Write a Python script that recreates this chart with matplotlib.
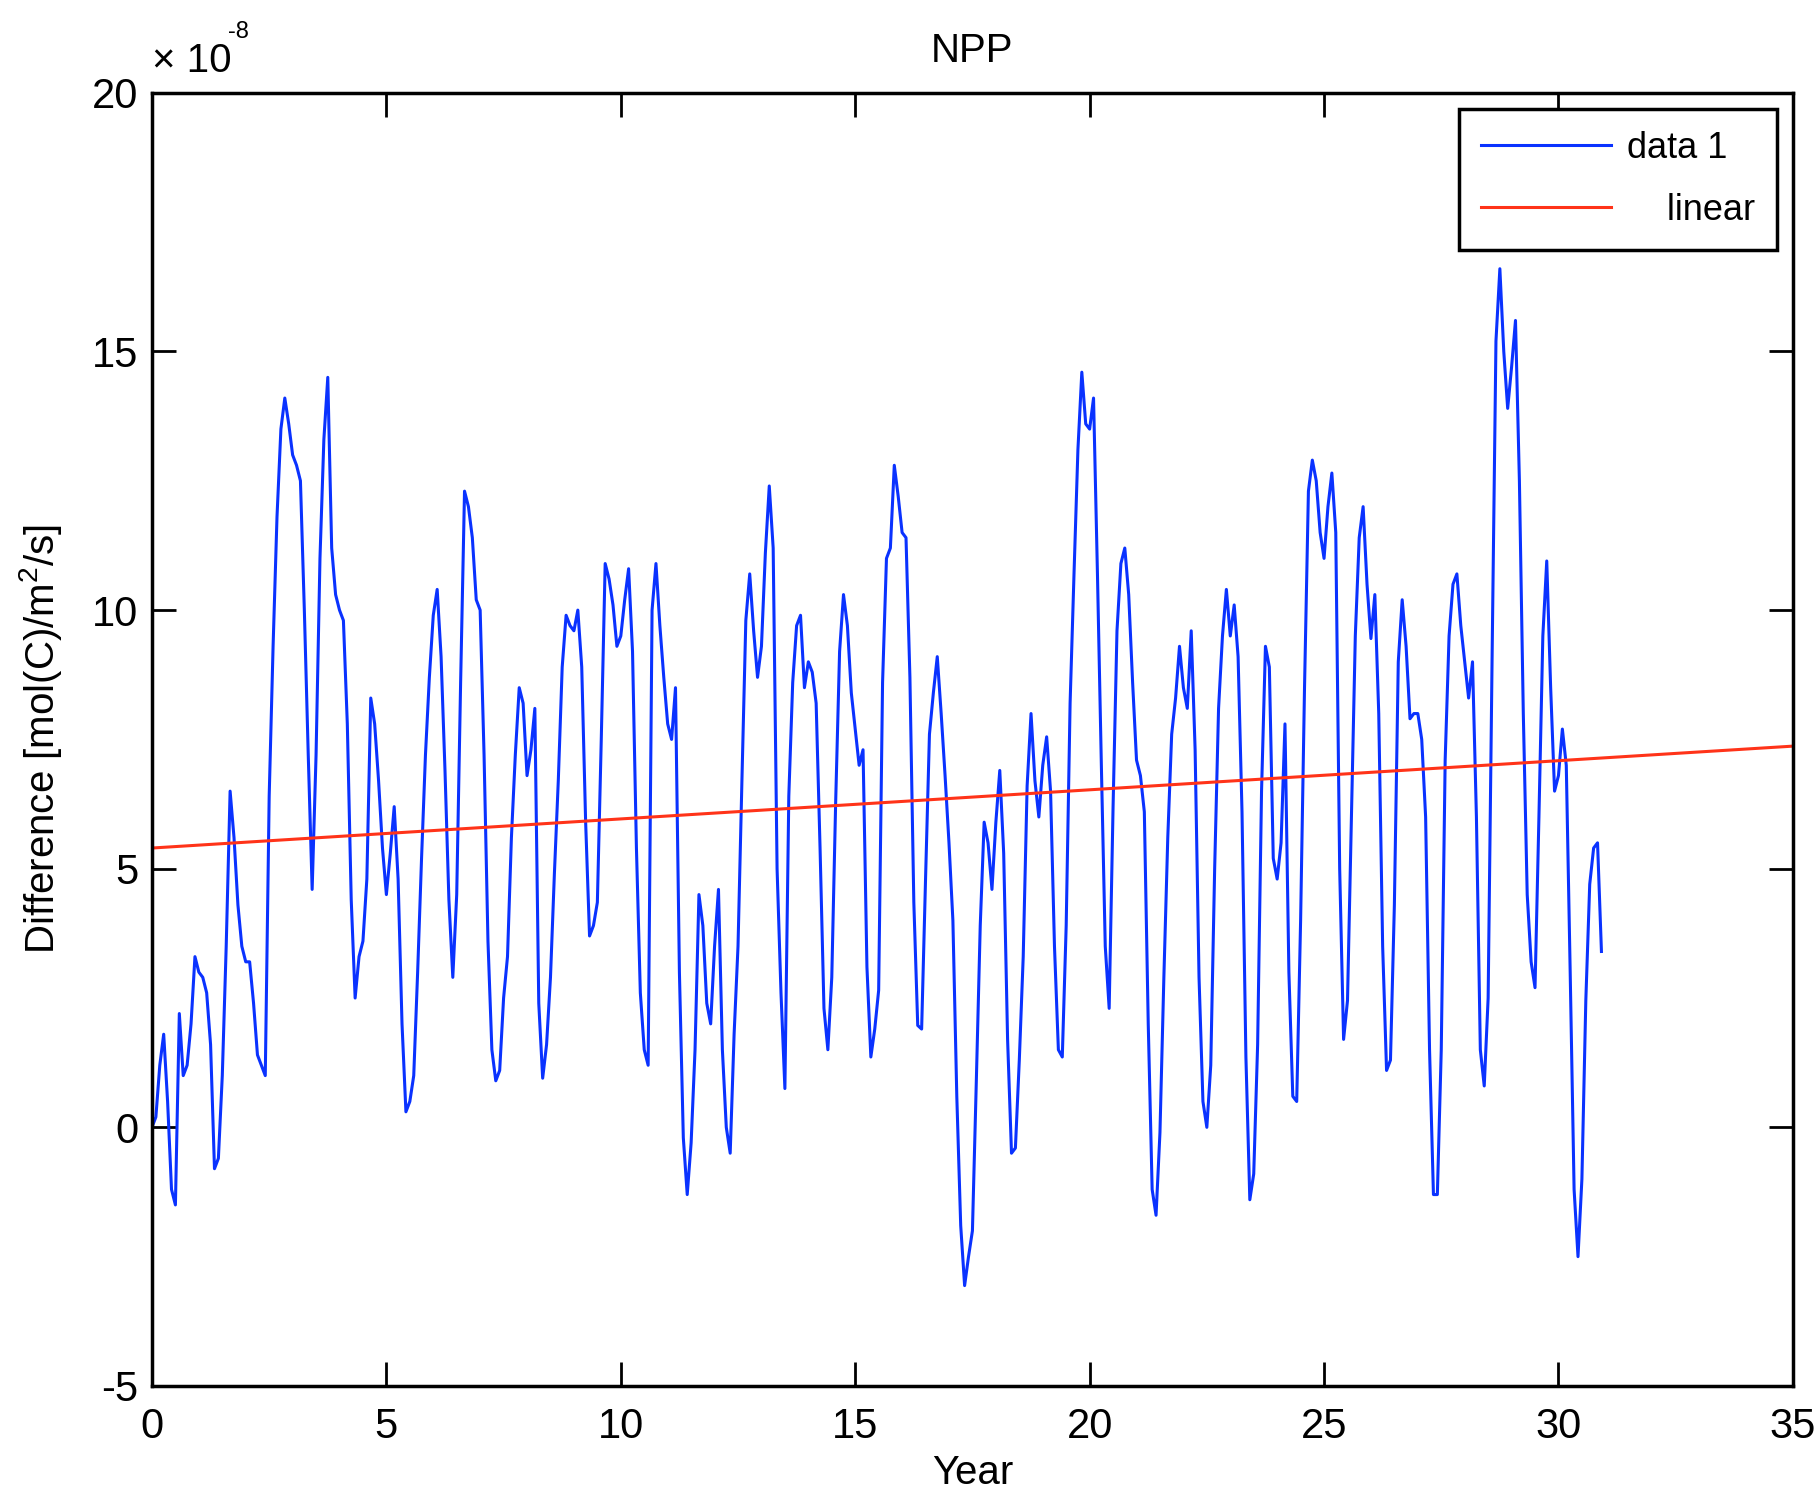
# %%
import matplotlib.pyplot as plt
import numpy as np

plt.rcParams.update(
    {
        "font.family": "Liberation Sans",
        "font.size": 30,
        "axes.unicode_minus": False,
        "mathtext.fontset": "custom",
        "mathtext.rm": "Liberation Sans",
        "mathtext.it": "Liberation Sans:italic",
    }
)

# monthly NPP difference, units of 1e-8 mol(C)/m^2/s
npp = [
    0.0, 0.2, 1.2, 1.8, 0.5, -1.2, -1.5, 2.2, 1.0, 1.2, 2.0, 3.3,
    3.0, 2.9, 2.6, 1.6, -0.8, -0.6, 1.0, 3.5, 6.5, 5.6, 4.3, 3.5,
    3.2, 3.2, 2.4, 1.4, 1.2, 1.0, 6.4, 9.3, 11.8, 13.5, 14.1, 13.6,
    13.0, 12.8, 12.5, 10.0, 7.2, 4.6, 7.2, 11.0, 13.3, 14.5, 11.2, 10.3,
    10.0, 9.8, 7.8, 4.4, 2.5, 3.3, 3.6, 4.8, 8.3, 7.8, 6.7, 5.4,
    4.5, 5.3, 6.2, 4.8, 2.0, 0.3, 0.5, 1.0, 3.0, 5.2, 7.2, 8.7,
    9.9, 10.4, 9.1, 6.9, 4.4, 2.9, 4.5, 8.6, 12.3, 12.0, 11.4, 10.2,
    10.0, 7.2, 3.6, 1.5, 0.9, 1.1, 2.5, 3.3, 5.6, 7.2, 8.5, 8.2,
    6.8, 7.3, 8.1, 2.4, 0.95, 1.6, 2.9, 4.9, 6.7, 8.9, 9.9, 9.7,
    9.6, 10.0, 8.9, 5.9, 3.7, 3.9, 4.35, 7.5, 10.9, 10.6, 10.1, 9.3,
    9.5, 10.2, 10.8, 9.2, 5.4, 2.6, 1.5, 1.2, 10.0, 10.9, 9.7, 8.7,
    7.8, 7.5, 8.5, 3.0, -0.2, -1.3, -0.3, 1.5, 4.5, 3.9, 2.4, 2.0,
    3.5, 4.6, 1.5, 0.0, -0.5, 1.8, 3.5, 6.7, 9.8, 10.7, 9.6, 8.7,
    9.3, 11.1, 12.4, 11.2, 5.0, 2.6, 0.75, 6.4, 8.6, 9.7, 9.9, 8.5,
    9.0, 8.8, 8.2, 5.4, 2.3, 1.5, 2.9, 6.3, 9.2, 10.3, 9.7, 8.4,
    7.7, 7.0, 7.3, 3.1, 1.36, 1.9, 2.65, 8.6, 11.0, 11.2, 12.8, 12.2,
    11.5, 11.4, 8.7, 4.35, 1.97, 1.9, 4.8, 7.6, 8.4, 9.1, 8.0, 6.8,
    5.5, 4.0, 0.6, -1.9, -3.06, -2.5, -2.0, 0.9, 3.9, 5.9, 5.5, 4.6,
    5.9, 6.9, 5.3, 1.7, -0.5, -0.4, 1.3, 3.3, 6.6, 8.0, 6.7, 6.0,
    7.0, 7.55, 6.5, 3.5, 1.5, 1.36, 3.9, 8.2, 10.7, 13.1, 14.6, 13.6,
    13.5, 14.1, 10.7, 7.0, 3.5, 2.3, 6.2, 9.6, 10.9, 11.2, 10.3, 8.6,
    7.1, 6.8, 6.1, 2.0, -1.2, -1.7, -0.1, 2.9, 5.6, 7.6, 8.3, 9.3,
    8.5, 8.1, 9.6, 7.3, 2.9, 0.5, 0.0, 1.2, 5.0, 8.1, 9.5, 10.4,
    9.5, 10.1, 9.1, 6.1, 1.36, -1.4, -0.9, 1.6, 6.5, 9.3, 8.9, 5.2,
    4.8, 5.5, 7.8, 3.0, 0.6, 0.5, 4.0, 8.5, 12.3, 12.9, 12.5, 11.5,
    11.0, 12.0, 12.65, 11.5, 5.0, 1.7, 2.45, 6.0, 9.5, 11.4, 12.0, 10.5,
    9.45, 10.3, 8.0, 3.5, 1.1, 1.3, 4.3, 9.0, 10.2, 9.3, 7.9, 8.0,
    8.0, 7.5, 6.0, 1.5, -1.3, -1.3, 1.5, 7.1, 9.5, 10.5, 10.7, 9.7,
    9.0, 8.3, 9.0, 6.0, 1.5, 0.8, 2.5, 9.0, 15.2, 16.6, 15.0, 13.9,
    14.7, 15.6, 12.5, 8.0, 4.5, 3.2, 2.7, 6.0, 9.5, 10.95, 8.5, 6.5,
    6.8, 7.7, 7.0, 3.0, -1.2, -2.5, -1.0, 2.45, 4.7, 5.4, 5.5, 3.4,
]
years = np.arange(len(npp)) / 12.0

# linear fit line as drawn (ends)
fit_years = [0, 35]
fit_npp = [5.4, 7.37]

# %%
fig = plt.figure(figsize=(18.2, 14.98), dpi=100)
ax = fig.add_axes([0.0835, 0.0748, 0.9016, 0.8632])

ax.plot(years, npp, color="#0a32ff", lw=2.2, label="data 1")
ax.plot(fit_years, fit_npp, color="#ff3319", lw=2.2, label="    linear")

ax.set_xlim(0, 35)
ax.set_ylim(-5, 20)
ax.set_xticks(range(0, 36, 5))
ax.set_yticks(range(-5, 21, 5))
ax.tick_params(direction="in", length=17, width=2, top=True, right=True)
ax.tick_params(axis="x", pad=15)
ax.tick_params(axis="y", pad=10)
for s in ax.spines.values():
    s.set_linewidth(2.5)

ax.set_title("NPP", pad=22, fontsize=29)
ax.set_xlabel("Year", labelpad=5, fontsize=29)
ax.set_ylabel(r"Difference [mol(C)/m$^2$/s]", labelpad=20, fontsize=29)

# exponent label like MATLAB
ax.text(0, 1.0162, "\u00d7 10", transform=ax.transAxes, ha="left", va="baseline", fontsize=29)
ax.text(0.0463, 1.0425, "-8", transform=ax.transAxes, ha="left", va="baseline", fontsize=17)

leg = ax.legend(
    loc="upper right",
    fancybox=False,
    edgecolor="black",
    framealpha=1,
    fontsize=26,
    handlelength=3.6,
    handletextpad=0.45,
    labelspacing=0.75,
    borderpad=0.6,
    borderaxespad=0.45,
)
leg.get_frame().set_linewidth(2.5)

fig.savefig("out.png", dpi=100)
